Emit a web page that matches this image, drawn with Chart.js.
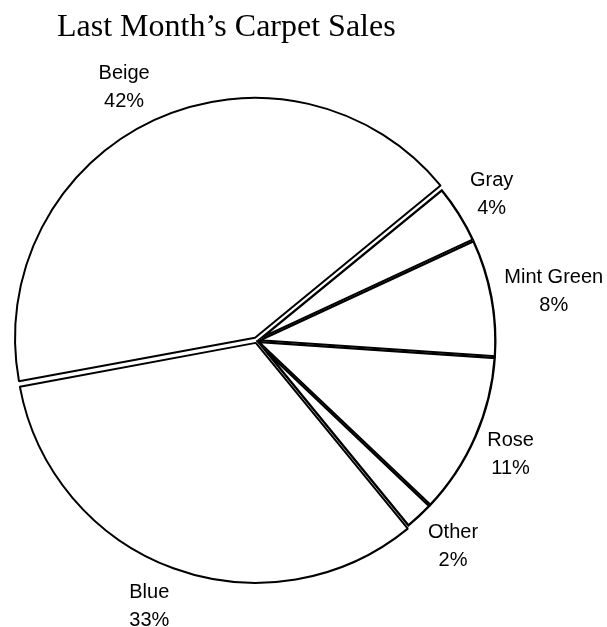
<!DOCTYPE html>
<html lang="en">
<head>
<meta charset="UTF-8">
<title>Last Month’s Carpet Sales</title>
<script src="https://cdn.jsdelivr.net/npm/chart.js"></script>
<style>
  html, body { margin: 0; padding: 0; background: #fff; }
  .chart-container { position: relative; width: 607px; height: 627px; }
</style>
</head>
<body>
<div class="chart-container"><canvas id="salesChart"></canvas></div>
<script>
const chartTitle = "Last Month’s Carpet Sales";
const colours = ["Beige", "Gray", "Mint Green", "Rose", "Other", "Blue"];
const salesShare = [42, 4, 8, 11, 2, 33];
const shareLabels = ["42%", "4%", "8%", "11%", "2%", "33%"];

// Beige and Blue are pulled out a little (Chart.js moves a slice by offset/4)
const sliceOffset = ctx => ({ 0: 14, 5: 8 }[ctx.dataIndex] || 0);

// title is drawn by hand so it can sit left of the pie like the original
const titlePlugin = {
  id: "carpetTitle",
  afterDraw(chart) {
    const ctx = chart.ctx;
    ctx.save();
    ctx.font = '32px "Liberation Serif", "Times New Roman", serif';
    ctx.fillStyle = "#000";
    ctx.textAlign = "left";
    ctx.textBaseline = "alphabetic";
    ctx.fillText(chartTitle, 57, 36);
    ctx.restore();
  }
};

// Chart.js also grows an offset slice's radius; undo that so the pie stays round
const keepRadius = {
  id: "keepRadius",
  afterDatasetUpdate(chart, args) {
    args.meta.data.forEach(arc => {
      const shift = (arc.options.offset || 0) / 4;
      if (shift) {
        arc.outerRadius -= shift * (1 - Math.sin(Math.min(Math.PI, arc.circumference)));
      }
    });
  }
};

// two-line labels (name + percent) outside each slice, spreadsheet style:
// the label's near side sits on a point just beyond the rim
const sliceLabels = {
  id: "sliceLabels",
  afterDatasetsDraw(chart) {
    const ctx = chart.ctx;
    const meta = chart.getDatasetMeta(0);
    ctx.save();
    ctx.font = '20px "Liberation Sans", Arial, sans-serif';
    ctx.fillStyle = "#000";
    ctx.textAlign = "center";
    ctx.textBaseline = "alphabetic";
    meta.data.forEach((arc, i) => {
      const p = arc.getProps(["x", "y", "startAngle", "endAngle", "outerRadius"], true);
      const mid = (p.startAngle + p.endAngle) / 2;
      const shift = (arc.options.offset || 0) / 4;
      const ux = Math.cos(mid), uy = Math.sin(mid);
      const lines = [colours[i], shareLabels[i]];
      const halfW = Math.max(...lines.map(t => ctx.measureText(t).width)) / 2;
      const r = p.outerRadius + shift + 12;
      const cx = p.x + ux * r + Math.sign(ux) * halfW;
      const cy = p.y + uy * r + uy * 27;
      ctx.fillText(lines[0], cx, cy - 7);
      ctx.fillText(lines[1], cx, cy + 21);
    });
    ctx.restore();
  }
};

new Chart(document.getElementById("salesChart"), {
  type: "pie",
  data: {
    labels: colours,
    datasets: [{
      data: salesShare,
      backgroundColor: "#ffffff",
      borderColor: "#000000",
      borderWidth: 2,
      // touching slices draw their edge inside, so shared edges look heavier
      borderAlign: ctx => sliceOffset(ctx) ? "center" : "inner",
      offset: sliceOffset,
      hoverOffset: 0
    }]
  },
  options: {
    responsive: true,
    maintainAspectRatio: false,
    animation: false,
    events: [],
    rotation: -100.5,
    radius: 240,
    layout: { padding: { left: 0, right: 94, top: 55, bottom: 0 } },
    plugins: {
      legend: { display: false },
      title: { display: false },
      tooltip: { enabled: false }
    }
  },
  plugins: [keepRadius, titlePlugin, sliceLabels]
});
</script>
</body>
</html>
